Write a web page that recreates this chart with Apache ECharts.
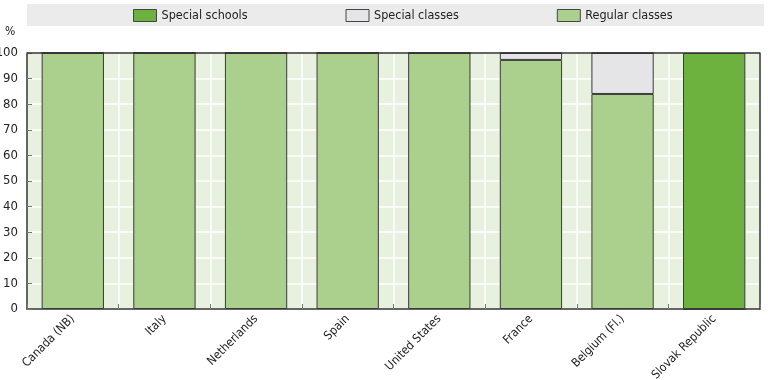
<!DOCTYPE html>
<html>
<head>
<meta charset="utf-8">
<script src="https://cdn.jsdelivr.net/npm/echarts@6/dist/echarts.min.js"></script>
<style>
  html, body { margin: 0; padding: 0; background: #fff; }
  #main { width: 768px; height: 380px; }
</style>
</head>
<body>
<div id="main"></div>
<script>
// countries on the x axis
const countries = ['Canada (NB)', 'Italy', 'Netherlands', 'Spain', 'United States', 'France', 'Belgium (Fl.)', 'Slovak Republic']
// shares in %
const regularClasses = [100, 100, 100, 100, 100, 97.3, 84, 0]
const specialClasses = [0, 0, 0, 0, 0, 2.7, 16, 0]
const specialSchools = [0, 0, 0, 0, 0, 0, 0, 100]

const font = '"DejaVu Sans Condensed", "Liberation Sans Narrow", sans-serif'
const myChart = echarts.init(document.getElementById('main'))

const barBorder = { borderColor: '#3a3a3a', borderWidth: 1 }

const option = {
  animation: false,
  textStyle: { fontFamily: font },
  graphic: [
    {
      type: 'rect',
      shape: { x: 27, y: 4, width: 737, height: 22 },
      style: { fill: '#ebebeb' },
      z: -1
    },
    {
      type: 'text',
      left: 5,
      top: 26,
      style: { text: '%', fontSize: 12, fill: '#222', fontFamily: font }
    }
  ],
  legend: {
    left: 128,
    top: 4,
    icon: 'rect',
    itemWidth: 23,
    itemHeight: 12,
    itemGap: 98,
    textStyle: { fontSize: 12.5, color: '#222', fontFamily: font },
    itemStyle: { borderColor: '#444', borderWidth: 1 },
    data: ['Special schools', 'Special classes', 'Regular classes']
  },
  grid: {
    left: 27, right: 8, top: 53, bottom: 71,
    outerBoundsMode: 'none',
    containLabel: false,
    backgroundColor: '#e8f0e0', show: true, borderWidth: 0
  },
  xAxis: {
    type: 'category',
    data: countries,
    axisLine: { lineStyle: { color: '#333', width: 1.5 } },
    axisTick: { show: true, inside: true, length: 5, lineStyle: { color: '#777' } },
    splitLine: { show: true, lineStyle: { color: '#fff', width: 1.5 } },
    axisLabel: { rotate: 45, fontSize: 12, color: '#222', margin: 8, fontFamily: font }
  },
  yAxis: [
    {
      type: 'value',
      min: 0,
      max: 100,
      interval: 10,
      axisLine: { show: true, lineStyle: { color: '#333', width: 1.5 } },
      axisTick: { show: true, inside: true, length: 5, lineStyle: { color: '#777' } },
      splitLine: { show: true, lineStyle: { color: '#fff', width: 1.5 } },
      axisLabel: { fontSize: 13, color: '#222', margin: 9, fontFamily: font }
    },
    {
      // right frame
      type: 'value',
      position: 'right',
      min: 0,
      max: 100,
      interval: 10,
      axisLine: { show: true, lineStyle: { color: '#333', width: 1.5 } },
      axisTick: { show: false },
      splitLine: { show: false },
      axisLabel: { show: false }
    }
  ],
  series: [
    {
      name: 'Regular classes',
      type: 'bar',
      stack: 'total',
      barCategoryGap: '32%',
      itemStyle: Object.assign({ color: '#abcf8d' }, barBorder),
      data: regularClasses
    },
    {
      name: 'Special classes',
      type: 'bar',
      stack: 'total',
      itemStyle: Object.assign({ color: '#e5e5e8' }, barBorder),
      data: specialClasses
    },
    {
      name: 'Special schools',
      type: 'bar',
      stack: 'total',
      itemStyle: Object.assign({ color: '#6db23f' }, barBorder),
      data: specialSchools
    },
    {
      // top frame of the plot
      type: 'line',
      silent: true,
      data: [],
      markLine: {
        symbol: 'none',
        silent: true,
        label: { show: false },
        lineStyle: { color: '#333', width: 1.5, type: 'solid' },
        data: [[{ x: 27, yAxis: 100 }, { x: 760, yAxis: 100 }]]
      }
    }
  ]
}
myChart.setOption(option)
</script>
</body>
</html>
